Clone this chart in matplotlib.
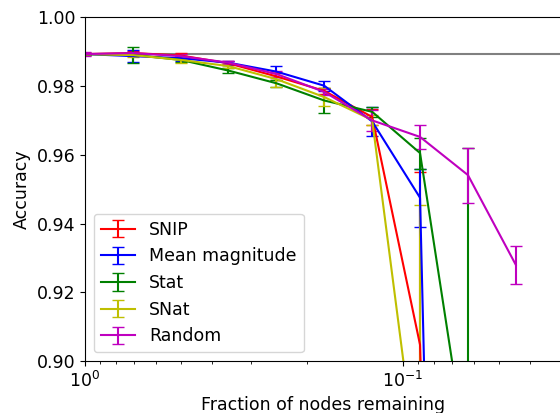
import numpy as np
import matplotlib
matplotlib.use('Agg')
import matplotlib.pyplot as plt

# Fraction of nodes kept after each pruning step
fractions = [1.0, 0.707, 0.5, 0.354, 0.25, 0.177, 0.125, 0.0884, 0.0625, 0.0442]

# Accuracy of the unpruned network
baseline = 0.9893

# Mean accuracy per method
snip_acc = [0.9893, 0.9896, 0.9889, 0.9866, 0.9828, 0.9786, 0.9710, 0.9047, 0.45, 0.15]
magnitude_acc = [0.9893, 0.9887, 0.9881, 0.9868, 0.9842, 0.9801, 0.9697, 0.9475, 0.37, 0.15]
stat_acc = [0.9893, 0.9891, 0.9876, 0.9845, 0.9808, 0.9758, 0.9725, 0.9605, 0.87, 0.20]
snat_acc = [0.9893, 0.9890, 0.9876, 0.9858, 0.9820, 0.9768, 0.9701, 0.8625, 0.30, 0.10]
random_acc = [0.9893, 0.9896, 0.9887, 0.9868, 0.9835, 0.9783, 0.9700, 0.9652, 0.9541, 0.9280]

# Standard deviations
snip_std = [0.0003, 0.0005, 0.0006, 0.0006, 0.0010, 0.0008, 0.0022, 0.0502, 0.05, 0.03]
magnitude_std = [0.0003, 0.0017, 0.0007, 0.0006, 0.0017, 0.0015, 0.0043, 0.0084, 0.05, 0.03]
stat_std = [0.0003, 0.0023, 0.0006, 0.0008, 0.0010, 0.0037, 0.0015, 0.0045, 0.092, 0.05]
snat_std = [0.0003, 0.0005, 0.0010, 0.0006, 0.0022, 0.0025, 0.0015, 0.0829, 0.05, 0.03]
random_std = [0.0005, 0.0004, 0.0005, 0.0005, 0.0008, 0.0008, 0.0030, 0.0034, 0.0080, 0.0055]

plt.rcParams['font.size'] = 12.5

fig = plt.figure(figsize=(5.6, 4.13), dpi=100)
ax = fig.add_axes([0.1518, 0.1259, 0.8518, 0.8322])

ax.axhline(baseline, color='gray', lw=1.5)

ax.errorbar(fractions, snip_acc, yerr=snip_std, color='r', capsize=4.5, label='SNIP')
ax.errorbar(fractions, magnitude_acc, yerr=magnitude_std, color='b', capsize=4.5, label='Mean magnitude')
ax.errorbar(fractions, stat_acc, yerr=stat_std, color='g', capsize=4.5, label='Stat')
ax.errorbar(fractions, snat_acc, yerr=snat_std, color='y', capsize=4.5, label='SNat')
ax.errorbar(fractions, random_acc, yerr=random_std, color='m', capsize=4.5, label='Random')

ax.set_xscale('log')
ax.set_xlim(1.0, 10 ** -1.5)
ax.set_ylim(0.90, 1.00)
ax.set_yticks([0.90, 0.92, 0.94, 0.96, 0.98, 1.00])
ax.set_xlabel('Fraction of nodes remaining')
ax.set_ylabel('Accuracy')
ax.legend(loc='lower left')

fig.savefig('out.png', dpi=100)
